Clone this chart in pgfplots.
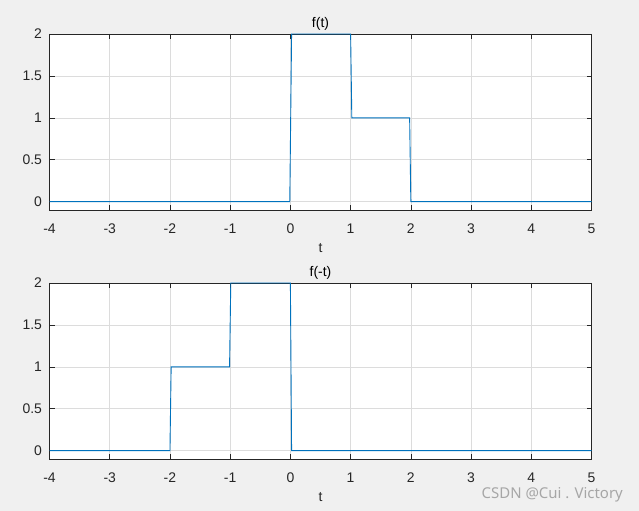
\documentclass[border=0pt]{standalone}
\usepackage{pgfplots}
\pgfplotsset{compat=1.18}
\usepackage{fontspec}
\setmainfont{Liberation Sans}
\newfontfamily\wmfont{Noto Sans}
\definecolor{figbg}{HTML}{F0F0F0}
\definecolor{axcol}{HTML}{262626}
\definecolor{gridcol}{HTML}{DCDCDC}
\definecolor{mblue}{HTML}{0072BD}
\pgfplotsset{
  mstyle/.style={
    scale only axis, width=542bp, height=176bp,
    anchor=south west,
    xmin=-4, xmax=5, ymin=-0.1, ymax=2,
    xtick={-4,-3,...,5}, ytick={0,0.5,1,1.5,2},
    grid=major, major grid style={gridcol, line width=0.5bp},
    axis line style={axcol, line width=0.6bp},
    tick style={axcol, line width=0.6bp},
    tick align=inside, major tick length=5bp,
    xtick pos=both, ytick pos=both,
    axis background/.style={fill=white},
    /pgf/number format/assume math mode=true,
    tick label style={font=\fontsize{14}{16}\selectfont, text=axcol},
    yticklabel style={xshift=-4bp},
    xticklabel style={yshift=-10bp},
    xlabel={t},
    xlabel style={font=\fontsize{14}{16}\selectfont, text=axcol, yshift=-3bp},
    title style={font=\fontsize{14}{16}\selectfont, at={(0.5,1)}, anchor=south, inner sep=2bp, yshift=-5bp},
  }
}
\begin{document}
\begin{tikzpicture}
\fill[figbg] (0,0) rectangle (639bp,511bp);
\useasboundingbox (0,0) rectangle (639bp,511bp);
\begin{axis}[mstyle, at={(49.5bp,301bp)}, title={f(t)}]
\addplot[mblue, no marks, line width=0.9bp] coordinates {(-4,0) (-0.01,0) (0.02,2) (1.0,2) (1.02,1) (1.98,1) (2.0,0) (5,0)};
\end{axis}
\begin{axis}[mstyle, at={(49.5bp,52bp)}, title={f(-t)}]
\addplot[mblue, no marks, line width=0.9bp] coordinates {(-4,0) (-2.0,0) (-1.98,1) (-1.01,1) (-0.99,2) (0.0,2) (0.02,0) (5,0)};
\end{axis}
\node[anchor=base east, text=black!35, font=\wmfont\fontsize{15}{17}\selectfont, inner sep=0pt] at (623bp,13bp) {CSDN @Cui . Victory};
\end{tikzpicture}
\end{document}
